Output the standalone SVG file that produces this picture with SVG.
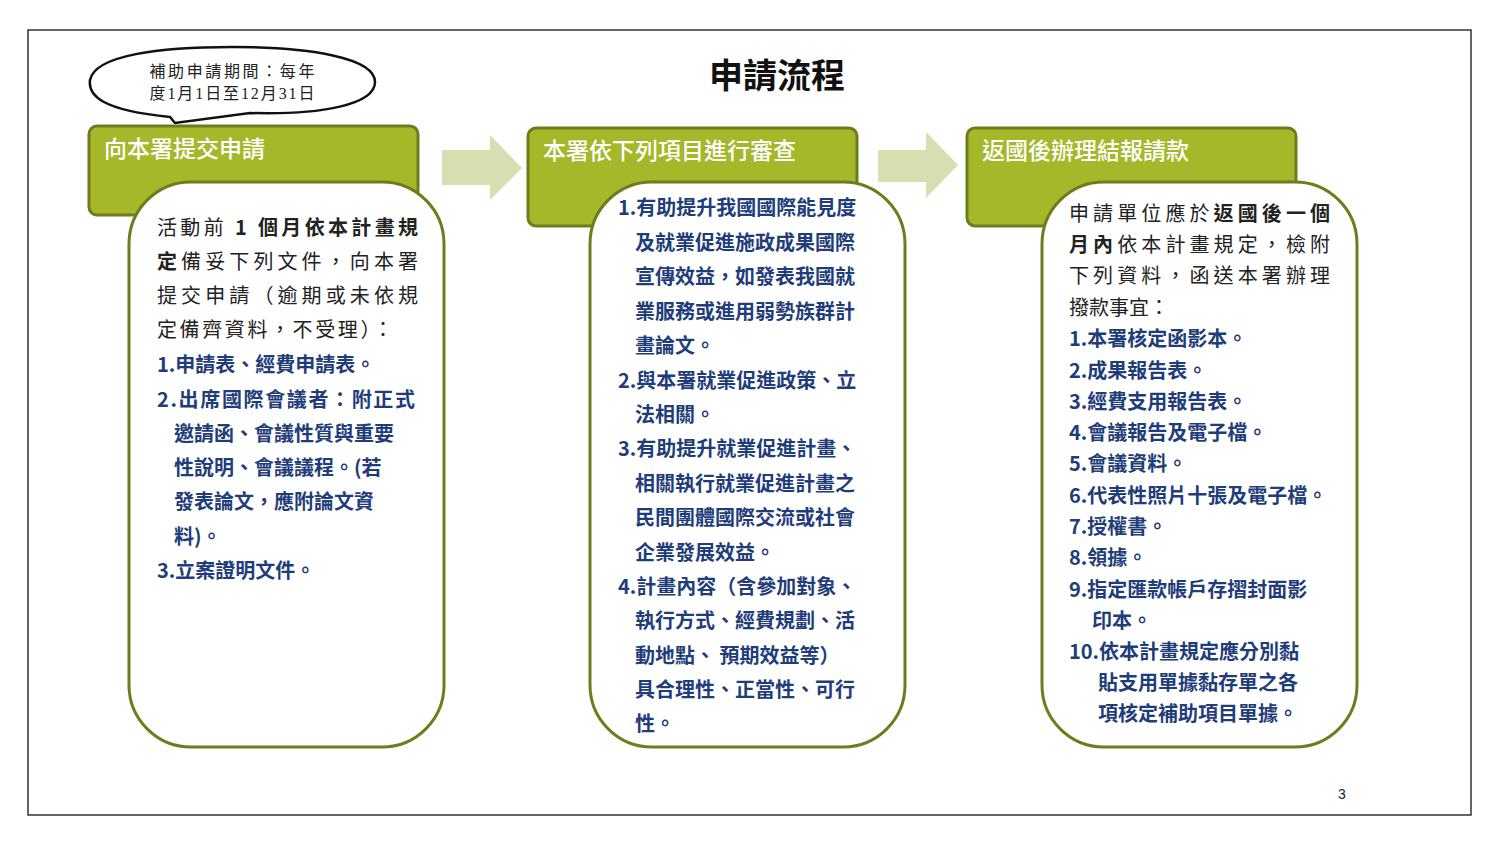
<svg xmlns="http://www.w3.org/2000/svg" width="1500" height="844" viewBox="0 0 1500 844">
<style>
.hd{fill:#a4b82a;stroke:#6e7d1c;stroke-width:3}
.bx{fill:#fff;stroke:#6e7d1c;stroke-width:3}
.ar{fill:#d6dfb0}
.ht{font-family:"Noto Sans CJK TC","Noto Sans",sans-serif;font-size:23px;fill:#fff;font-weight:500}
.t{font-family:"Noto Sans CJK TC","Noto Sans",sans-serif;font-size:20px;fill:#222}
.b{font-weight:bold}
.bl{font-family:"Noto Sans CJK TC","Noto Sans",sans-serif;font-size:20px;fill:#1f3d7a;font-weight:bold}
</style>
<rect width="1500" height="844" fill="#fff"/>
<rect x="28" y="30" width="1443" height="785" fill="none" stroke="#333" stroke-width="1.5"/>
<text x="777" y="88" text-anchor="middle" font-family="'Noto Sans CJK TC',sans-serif" font-size="34" font-weight="bold" fill="#111">申請流程</text>
<text x="1342" y="799" text-anchor="middle" font-family="'Liberation Sans',sans-serif" font-size="14" fill="#222">3</text>
<g id="callout">
<path d="M170,117 C100,110 88,95 90,80 C95,55 160,47 232,47 C310,47 375,58 375,82 C375,105 320,115 250,113 L175,123 Z" fill="#fff" stroke="#111" stroke-width="2.5"/>
<text x="232" y="77" text-anchor="middle" font-family="'Noto Sans CJK TC',serif" font-size="16" fill="#222" textLength="165" lengthAdjust="spacing">補助申請期間：每年</text>
<text x="232" y="99" text-anchor="middle" font-family="'Liberation Serif','Noto Sans CJK TC',serif" font-size="16" fill="#222" textLength="165" lengthAdjust="spacing">度1月1日至12月31日</text>
</g>
<g id="connectors">
<polygon class="ar" points="442,150 490,150 490,135 522,168 490,200 490,185 442,185"/>
<polygon class="ar" points="878,150 926,150 926,132 958,165 926,198 926,182 878,182"/>
</g>
<g id="step1">
<rect class="hd" x="89" y="126" width="329" height="89" rx="8"/>
<text class="ht" x="104" y="157">向本署提交申請</text>
<rect class="bx" x="129" y="182" width="315" height="565" rx="62"/>
<text class="t" x="157" y="235" textLength="261" lengthAdjust="spacing">活動前<tspan class="b"> 1 個月依本計畫規</tspan></text>
<text class="t" x="157" y="269" textLength="261" lengthAdjust="spacing"><tspan class="b">定</tspan>備妥下列文件，向本署</text>
<text class="t" x="157" y="303" textLength="261" lengthAdjust="spacing">提交申請（逾期或未依規</text>
<text class="t" x="157" y="337" textLength="236" lengthAdjust="spacing">定備齊資料，不受理）：</text>
<text class="bl" x="157" y="372">1.申請表、經費申請表。</text>
<text class="bl" x="157" y="407" textLength="258" lengthAdjust="spacing">2.出席國際會議者：附正式</text>
<text class="bl" x="174" y="441">邀請函、會議性質與重要</text>
<text class="bl" x="174" y="475">性說明、會議議程。(若</text>
<text class="bl" x="174" y="509">發表論文，應附論文資</text>
<text class="bl" x="174" y="544">料)。</text>
<text class="bl" x="157" y="578">3.立案證明文件。</text>
</g>
<g id="step2">
<rect class="hd" x="528" y="128" width="329" height="98" rx="8"/>
<text class="ht" x="543" y="159">本署依下列項目進行審查</text>
<rect class="bx" x="590" y="182" width="315" height="565" rx="62"/>
<text class="bl" x="618" y="215">1.有助提升我國國際能見度</text>
<text class="bl" x="635" y="250">及就業促進施政成果國際</text>
<text class="bl" x="635" y="284">宣傳效益，如發表我國就</text>
<text class="bl" x="635" y="319">業服務或進用弱勢族群計</text>
<text class="bl" x="635" y="353">畫論文。</text>
<text class="bl" x="618" y="388">2.與本署就業促進政策、立</text>
<text class="bl" x="635" y="422">法相關。</text>
<text class="bl" x="618" y="456">3.有助提升就業促進計畫、</text>
<text class="bl" x="635" y="491">相關執行就業促進計畫之</text>
<text class="bl" x="635" y="525">民間團體國際交流或社會</text>
<text class="bl" x="635" y="560">企業發展效益。</text>
<text class="bl" x="618" y="594">4.計畫內容（含參加對象、</text>
<text class="bl" x="635" y="628">執行方式、經費規劃、活</text>
<text class="bl" x="635" y="663">動地點、 預期效益等）</text>
<text class="bl" x="635" y="697">具合理性、正當性、可行</text>
<text class="bl" x="635" y="731">性。</text>
</g>
<g id="step3">
<rect class="hd" x="967" y="128" width="329" height="98" rx="8"/>
<text class="ht" x="982" y="159">返國後辦理結報請款</text>
<rect class="bx" x="1042" y="182" width="315" height="565" rx="62"/>
<text class="t" x="1069" y="221" textLength="261" lengthAdjust="spacing">申請單位應於<tspan class="b">返國後一個</tspan></text>
<text class="t" x="1069" y="252" textLength="261" lengthAdjust="spacing"><tspan class="b">月內</tspan>依本計畫規定，檢附</text>
<text class="t" x="1069" y="283" textLength="261" lengthAdjust="spacing">下列資料，函送本署辦理</text>
<text class="t" x="1069" y="315">撥款事宜：</text>
<text class="bl" x="1069" y="346">1.本署核定函影本。</text>
<text class="bl" x="1069" y="378">2.成果報告表。</text>
<text class="bl" x="1069" y="409">3.經費支用報告表。</text>
<text class="bl" x="1069" y="440">4.會議報告及電子檔。</text>
<text class="bl" x="1069" y="471">5.會議資料。</text>
<text class="bl" x="1069" y="503">6.代表性照片十張及電子檔。</text>
<text class="bl" x="1069" y="534">7.授權書。</text>
<text class="bl" x="1069" y="565">8.領據。</text>
<text class="bl" x="1069" y="597">9.指定匯款帳戶存摺封面影</text>
<text class="bl" x="1092" y="628">印本。</text>
<text class="bl" x="1069" y="659">10.依本計畫規定應分別黏</text>
<text class="bl" x="1098" y="690">貼支用單據黏存單之各</text>
<text class="bl" x="1098" y="721">項核定補助項目單據。</text>
</g>
</svg>
